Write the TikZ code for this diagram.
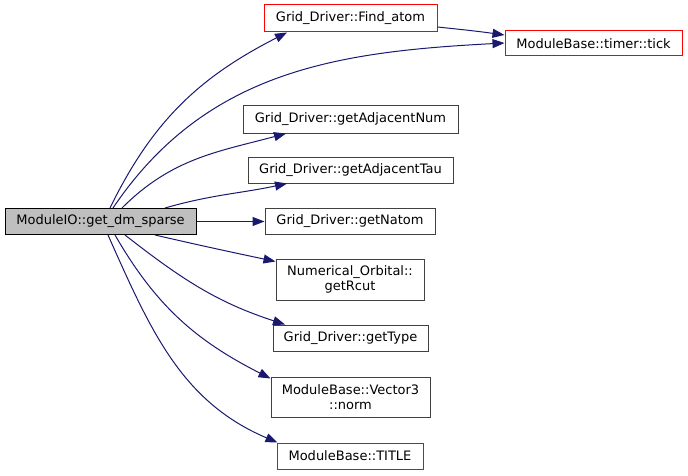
\documentclass[tikz,border=0pt]{standalone}
\usepackage{fontspec}
\setmainfont{DejaVu Sans}
\usetikzlibrary{arrows.meta}
\definecolor{callblue}{HTML}{191970}
\definecolor{boxgray}{HTML}{404040}
\definecolor{boxred}{HTML}{FF0000}
\definecolor{mainfill}{HTML}{BFBFBF}
\tikzset{
  fn/.style={shape=rectangle,draw=boxgray,line width=1pt,inner sep=0pt,
    minimum height=26pt,align=center,font=\fontsize{13}{15}\selectfont},
  fnred/.style={fn,draw=boxred},
  fnmain/.style={fn,draw=black,fill=mainfill},
  call/.style={color=callblue,line width=1pt,>={Triangle[length=12pt,width=9pt]},->}
}
\begin{document}
\begin{tikzpicture}[x=1pt,y=1pt]
    \useasboundingbox (0,0) rectangle (688,475);
    \node[fnmain,minimum width=191pt] (main) at (100.5,253.5) {ModuleIO::get\_dm\_sparse};
    \node[fnred,minimum width=173pt,minimum height=27pt] (find) at (350.5,456.5) {Grid\_Driver::Find\_atom};
    \node[fnred,minimum width=177pt,minimum height=25pt] (tick) at (593.5,431.5) {ModuleBase::timer::tick};
    \node[fn,minimum width=215pt,minimum height=27pt] (adjnum) at (350.5,355.5) {Grid\_Driver::getAdjacentNum};
    \node[fn,minimum width=205pt] (adjtau) at (350.5,305) {Grid\_Driver::getAdjacentTau};
    \node[fn,minimum width=170pt] (natom) at (350,253.5) {Grid\_Driver::getNatom};
    \node[fn,minimum width=148pt,minimum height=41pt] (rcut) at (350,195.5) {Numerical\_Orbital::\\getRcut};
    \node[fn,minimum width=155pt] (type) at (350.5,137) {Grid\_Driver::getType};
    \node[fn,minimum width=159pt,minimum height=40pt] (norm) at (350.5,78) {ModuleBase::Vector3\\::norm};
    \node[fnred,minimum width=146pt] (title) at (350,19) {ModuleBase::TITLE};
    \path [call] ([xshift=9.5pt]main.north) edge[out=64,in=207] ([xshift=-63.5pt]find.south);
    \path [call] ([xshift=12.5pt]main.north) edge[out=56,in=183] ([yshift=0.5pt]tick.west);
    \path [call] ([yshift=-8.5pt]find.east) edge[out=-6,in=172] ([yshift=8.5pt]tick.west);
    \path [call] ([xshift=21.5pt]main.north) edge[out=45,in=195] ([xshift=-64.5pt]adjnum.south);
    \path [call] ([xshift=64.5pt]main.north) edge[out=16,in=192] ([xshift=-63.5pt]adjtau.south);
    \path [call] (main.east) edge (natom.west);
    \path [call] ([xshift=54.5pt]main.south) edge[out=-13,in=168] ([yshift=-3pt]rcut.north west);
    \path [call] ([xshift=24.5pt]main.south) edge[out=-38,in=162] ([xshift=-65.5pt]type.north);
    \path [call] ([xshift=14.5pt]main.south) edge[out=-60,in=153] ([yshift=-2pt]norm.north west);
    \path [call] ([xshift=7.5pt]main.south) edge[out=-66,in=157] ([xshift=1pt]title.north west);
\end{tikzpicture}
\end{document}
